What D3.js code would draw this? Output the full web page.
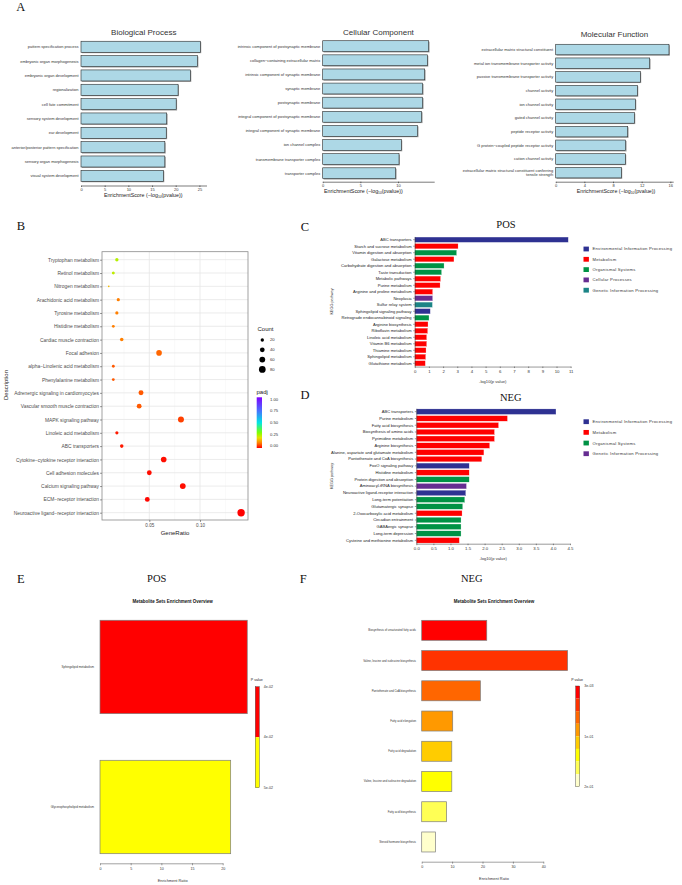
<!DOCTYPE html>
<html lang="en">
<head>
<meta charset="UTF-8">
<script src="https://cdn.jsdelivr.net/npm/d3@7"></script>
<title>Enrichment panels</title>
<style>
  body { margin: 0; background: #fff; }
  text { font-family: "Liberation Sans", Arial, sans-serif; }
  .serif { font-family: "Liberation Serif", "Times New Roman", serif; }
</style>
</head>
<body>
<div id="fig"></div>
<script>
// ---------- A: GO enrichment ----------
var bpTerms = ["pattern specification process", "embryonic organ morphogenesis", "embryonic organ development",
  "regionalization", "cell fate commitment", "sensory system development", "ear development",
  "anterior/posterior pattern specification", "sensory organ morphogenesis", "visual system development"];
var bpScores = [25.2, 24.6, 23.1, 20.5, 20.1, 18.1, 18.0, 17.7, 17.7, 17.4];
var bpTicks = [0, 5, 10, 15, 20, 25];

var ccTerms = ["intrinsic component of postsynaptic membrane", "collagen−containing extracellular matrix",
  "intrinsic component of synaptic membrane", "synaptic membrane", "postsynaptic membrane",
  "integral component of postsynaptic membrane", "integral component of synaptic membrane",
  "ion channel complex", "transmembrane transporter complex", "transporter complex"];
var ccScores = [14.07, 13.9, 13.54, 13.27, 13.27, 13.14, 12.6, 10.44, 10.13, 9.69];
var ccTicks = [0, 5, 10];

var mfTerms = ["extracellular matrix structural constituent", "metal ion transmembrane transporter activity",
  "passive transmembrane transporter activity", "channel activity", "ion channel activity",
  "gated channel activity", "peptide receptor activity", "G protein−coupled peptide receptor activity",
  "cation channel activity", "extracellular matrix structural constituent conferring\ntensile strength"];
var mfScores = [15.81, 13.12, 11.81, 11.4, 11.12, 10.98, 10.05, 9.77, 9.72, 9.16];
var mfTicks = [0, 4, 8, 12, 16];

// ---------- B: KEGG dot plot ----------
var keggTerms = ["Tryptophan metabolism", "Retinol metabolism", "Nitrogen metabolism", "Arachidonic acid metabolism",
  "Tyrosine metabolism", "Histidine metabolism", "Cardiac muscle contraction", "Focal adhesion",
  "alpha−Linolenic acid metabolism", "Phenylalanine metabolism", "Adrenergic signaling in cardiomyocytes",
  "Vascular smooth muscle contraction", "MAPK signaling pathway", "Linoleic acid metabolism", "ABC transporters",
  "Cytokine−cytokine receptor interaction", "Cell adhesion molecules", "Calcium signaling pathway",
  "ECM−receptor interaction", "Neuroactive ligand−receptor interaction"];
var keggRatio = [0.018, 0.0145, 0.010, 0.0194, 0.018, 0.0145, 0.0228, 0.0596, 0.0145, 0.0145,
  0.0418, 0.040, 0.0812, 0.018, 0.0228, 0.0642, 0.050, 0.083, 0.048, 0.1405];
var keggCount = [20, 16, 5, 18, 18, 14, 22, 56, 14, 14, 44, 41, 64, 18, 22, 56, 41, 60, 41, 97];
var keggPadj = [0.25, 0.24, 0.16, 0.1, 0.1, 0.1, 0.1, 0.08, 0.07, 0.07,
  0.07, 0.07, 0.05, 0.02, 0.02, 0.01, 0.01, 0.01, 0.005, 0.001];
var ratioTicks = [0.05, 0.10];
var countLegend = [20, 40, 60, 80];
var padjLegend = [0, 0.25, 0.5, 0.75, 1];

// ---------- C / D: KEGG classes ----------
var posTerms = ["ABC transporters", "Starch and sucrose metabolism", "Vitamin digestion and absorption",
  "Galactose metabolism", "Carbohydrate digestion and absorption", "Taste transduction", "Metabolic pathways",
  "Purine metabolism", "Arginine and proline metabolism", "Neoplasia", "Sulfur relay system",
  "Sphingolipid signaling pathway", "Retrograde endocannabinoid signaling", "Arginine biosynthesis",
  "Riboflavin metabolism", "Linoleic acid metabolism", "Vitamin B6 metabolism", "Thiamine metabolism",
  "Sphingolipid metabolism", "Glutathione metabolism"];
var posValues = [10.83, 3.06, 2.96, 2.77, 2.07, 1.90, 1.83, 1.79, 1.27, 1.27, 1.25, 1.10, 1.01,
  0.94, 0.92, 0.85, 0.85, 0.80, 0.78, 0.75];
var posClass = ["Environmental Information Processing", "Metabolism", "Organismal Systems", "Metabolism",
  "Organismal Systems", "Organismal Systems", "Metabolism", "Metabolism", "Metabolism", "Cellular Processes",
  "Genetic Information Processing", "Environmental Information Processing", "Organismal Systems",
  "Metabolism", "Metabolism", "Metabolism", "Metabolism", "Metabolism", "Metabolism", "Metabolism"];
var posLegend = ["Environmental Information Processing", "Metabolism", "Organismal Systems",
  "Cellular Processes", "Genetic Information Processing"];
var posLegendColors = ["#2e3192", "#ff0000", "#009245", "#662d91", "#1b8486"];
var posTicks = [0, 1, 2, 3, 4, 5, 6, 7, 8, 9, 10, 11];

var negTerms = ["ABC transporters", "Purine metabolism", "Fatty acid biosynthesis", "Biosynthesis of amino acids",
  "Pyrimidine metabolism", "Arginine biosynthesis", "Alanine, aspartate and glutamate metabolism",
  "Pantothenate and CoA biosynthesis", "FoxO signaling pathway", "Histidine metabolism",
  "Protein digestion and absorption", "Aminoacyl-tRNA biosynthesis", "Neuroactive ligand-receptor interaction",
  "Long-term potentiation", "Glutamatergic synapse", "2-Oxocarboxylic acid metabolism", "Circadian entrainment",
  "GABAergic synapse", "Long-term depression", "Cysteine and methionine metabolism"];
var negValues = [4.09, 2.67, 2.41, 2.29, 2.29, 2.15, 1.98, 1.92, 1.55, 1.55, 1.55, 1.47, 1.45,
  1.42, 1.36, 1.34, 1.31, 1.31, 1.31, 1.26];
var negClass = ["Environmental Information Processing", "Metabolism", "Metabolism", "Metabolism", "Metabolism",
  "Metabolism", "Metabolism", "Metabolism", "Environmental Information Processing", "Metabolism",
  "Organismal Systems", "Genetic Information Processing", "Environmental Information Processing",
  "Organismal Systems", "Organismal Systems", "Metabolism", "Organismal Systems", "Organismal Systems",
  "Organismal Systems", "Metabolism"];
var negLegend = ["Environmental Information Processing", "Metabolism", "Organismal Systems",
  "Genetic Information Processing"];
var negLegendColors = ["#2e3192", "#ff0000", "#009245", "#662d91"];
var negTicks = [0, 0.5, 1, 1.5, 2, 2.5, 3, 3.5, 4, 4.5];

// ---------- E / F: metabolite set enrichment ----------
var ePathways = ["Sphingolipid metabolism", "Glycerophospholipid metabolism"];
var eRatio = [24.0, 21.3];
var ePval = [0.038, 0.049];
var eColors = ["#ff0000", "#ffff00"];
var eTicks = [0, 5, 10, 15, 20];

var fPathways = ["Biosynthesis of unsaturated fatty acids", "Valine, leucine and isoleucine biosynthesis",
  "Pantothenate and CoA biosynthesis", "Fatty acid elongation", "Fatty acid degradation",
  "Valine, leucine and isoleucine degradation", "Fatty acid biosynthesis", "Steroid hormone biosynthesis"];
var fRatio = [21.4, 48.0, 19.3, 10.2, 9.9, 9.9, 8.2, 4.5];
var fPval = [0.003, 0.03, 0.055, 0.08, 0.11, 0.135, 0.16, 0.2];
var fColors = ["#ff0000", "#ff3300", "#ff6600", "#ff9900", "#ffcc00", "#ffff00", "#ffff55", "#ffffcc"];
var fTicks = [0, 10, 20, 30, 40];

var svg = d3.select("#fig").append("svg")
  .attr("width", 682).attr("height", 885);
svg.append("rect").attr("width", 682).attr("height", 885).attr("fill", "#fff");

// panel letters
[["A", 20.7, 11], ["B", 21, 229.5], ["C", 305, 230.5], ["D", 305, 398.5], ["E", 20.7, 583], ["F", 303.3, 583]]
  .forEach(l => {
    svg.append("text").attr("class", "serif").attr("x", l[1]).attr("y", l[2])
      .attr("text-anchor", "middle").attr("font-size", 12.5).attr("fill", "#111").text(l[0]);
  });

function multiline(sel, size) {
  sel.each(function(d) {
    var lines = String(d).split("\n");
    var t = d3.select(this).text(null);
    lines.forEach((ln, i) => {
      t.append("tspan").attr("x", t.attr("x"))
        .attr("dy", i == 0 ? (0.35 - (lines.length - 1) * 0.5) + "em" : "1em")
        .text(ln);
    });
  });
}

// ---- A panels
function drawGO(o) {
  var x = d3.scaleLinear().domain([0, o.xMax]).range([o.x0, o.x1]);
  var y = d3.scaleBand().domain(o.terms).range([o.yTop, o.yBot]).paddingInner(0.23).paddingOuter(0.115);
  var g = svg.append("g");
  g.selectAll(".shadow").data(o.terms).enter().append("rect")
    .attr("x", x(0) + 0.9).attr("y", d => y(d) + 0.9)
    .attr("width", (d, i) => x(o.scores[i]) - x(0)).attr("height", y.bandwidth())
    .attr("fill", "#a0a0a0");
  g.selectAll(".bar").data(o.terms).enter().append("rect")
    .attr("x", x(0)).attr("y", d => y(d))
    .attr("width", (d, i) => x(o.scores[i]) - x(0)).attr("height", y.bandwidth())
    .attr("fill", "#add8e6").attr("stroke", "#2a2a2a").attr("stroke-width", 0.6);
  g.selectAll(".lab").data(o.terms).enter().append("text")
    .attr("x", x(0) - 2.5).attr("y", d => y(d) + y.bandwidth() / 2)
    .attr("text-anchor", "end").attr("font-size", 4).attr("fill", "#333")
    .call(multiline);
  var ax = g.append("g").attr("transform", "translate(0," + o.axisY + ")")
    .call(d3.axisBottom(x).tickValues(o.ticks).tickSize(1.5).tickSizeOuter(0).tickPadding(0.8));
  ax.selectAll("text").attr("font-size", 4).attr("fill", "#333");
  ax.selectAll("line,path").attr("stroke", "#222").attr("stroke-width", 0.6);
  g.append("text").attr("x", (o.x0 + o.x1) / 2).attr("y", o.titleY).attr("text-anchor", "middle")
    .attr("font-size", 8).attr("fill", "#333").text(o.title);
  var xt = g.append("text").attr("x", o.x0 + (o.ticks[o.ticks.length - 1] / o.xMax) * (o.x1 - o.x0) / 2 + 3)
    .attr("y", o.axisY + 11.5).attr("text-anchor", "middle").attr("font-size", 5.3).attr("fill", "#222");
  xt.append("tspan").text("EnrichmentScore (−log");
  xt.append("tspan").attr("font-size", 3.3).attr("dy", 1.2).text("10");
  xt.append("tspan").attr("dy", -1.2).text("(pvalue))");
}

drawGO({ title: "Biological Process", terms: bpTerms, scores: bpScores, ticks: bpTicks,
  xMax: 26.5, x0: 81, x1: 206.5, yTop: 39.6, yBot: 183.0, axisY: 185.5, titleY: 34.5 });
drawGO({ title: "Cellular Component", terms: ccTerms, scores: ccScores, ticks: ccTicks,
  xMax: 14.8, x0: 322.7, x1: 434.2, yTop: 39.1, yBot: 180.3, axisY: 181.7, titleY: 34.5 });
drawGO({ title: "Molecular Function", terms: mfTerms, scores: mfScores, ticks: mfTicks,
  xMax: 16.4, x0: 555.7, x1: 673.2, yTop: 42.7, yBot: 179.5, axisY: 181.7, titleY: 37.3 });

// ---- B dot plot
(function() {
  var left = 102, right = 248, top = 251.7, bottom = 520;
  var x = d3.scaleLinear().domain([0.00335, 0.1473]).range([left, right]);
  var y = d3.scalePoint().domain(keggTerms).range([259.7, 512.7]);
  var r = d3.scaleSqrt().domain([0, 80]).range([0, 3.35]);
  var padjStops = [0, 0.1, 0.2, 0.3, 0.5, 0.75, 1];
  var color = d3.scaleLinear().domain(padjStops)
    .range(["#ff0000", "#ff7f00", "#e8e000", "#7fff00", "#00e5e5", "#4d6bff", "#8000ff"]);
  var g = svg.append("g");
  // grid
  [0.025, 0.075, 0.125].forEach(v => {
    g.append("line").attr("x1", x(v)).attr("x2", x(v)).attr("y1", top).attr("y2", bottom)
      .attr("stroke", "#f2f2f2").attr("stroke-width", 0.5);
  });
  ratioTicks.forEach(v => {
    g.append("line").attr("x1", x(v)).attr("x2", x(v)).attr("y1", top).attr("y2", bottom)
      .attr("stroke", "#e6e6e6").attr("stroke-width", 0.8);
  });
  g.selectAll(".hg").data(keggTerms).enter().append("line")
    .attr("x1", left).attr("x2", right).attr("y1", d => y(d)).attr("y2", d => y(d))
    .attr("stroke", "#e6e6e6").attr("stroke-width", 0.8);
  g.selectAll(".dot").data(keggTerms).enter().append("circle")
    .attr("cx", (d, i) => x(keggRatio[i])).attr("cy", d => y(d))
    .attr("r", (d, i) => r(keggCount[i]))
    .attr("fill", (d, i) => color(keggPadj[i]));
  g.append("rect").attr("x", left).attr("y", top).attr("width", right - left).attr("height", bottom - top)
    .attr("fill", "none").attr("stroke", "#8a8a8a").attr("stroke-width", 0.8);
  var ay = g.append("g").attr("transform", "translate(" + left + ",0)")
    .call(d3.axisLeft(y).tickSize(2).tickPadding(1));
  ay.select(".domain").remove();
  ay.selectAll("text").attr("font-size", 4.9).attr("fill", "#4d4d4d");
  ay.selectAll("line").attr("stroke", "#333").attr("stroke-width", 0.5);
  var ax = g.append("g").attr("transform", "translate(0," + bottom + ")")
    .call(d3.axisBottom(x).tickValues(ratioTicks).tickFormat(d3.format(".2f")).tickSize(2).tickPadding(1.5));
  ax.select(".domain").remove();
  ax.selectAll("text").attr("font-size", 4.6).attr("fill", "#4d4d4d");
  ax.selectAll("line").attr("stroke", "#333").attr("stroke-width", 0.5);
  g.append("text").attr("x", (left + right) / 2).attr("y", 534.5).attr("text-anchor", "middle")
    .attr("font-size", 6).attr("fill", "#222").text("GeneRatio");
  g.append("text").attr("transform", "translate(8,385) rotate(-90)").attr("text-anchor", "middle")
    .attr("font-size", 6).attr("fill", "#222").text("Description");

  // legends
  g.append("text").attr("x", 257.5).attr("y", 330.5).attr("font-size", 6).attr("fill", "#222").text("Count");
  countLegend.forEach((c, i) => {
    var cy = 340 + i * 9.8;
    g.append("circle").attr("cx", 262.3).attr("cy", cy).attr("r", r(c)).attr("fill", "#000");
    g.append("text").attr("x", 270).attr("y", cy).attr("dy", "0.35em").attr("font-size", 4.2)
      .attr("fill", "#333").text(c);
  });
  g.append("text").attr("x", 256.5).attr("y", 393.5).attr("font-size", 6).attr("fill", "#222").text("padj");
  var grad = svg.append("defs").append("linearGradient").attr("id", "padjGrad")
    .attr("x1", 0).attr("y1", 1).attr("x2", 0).attr("y2", 0);
  d3.range(0, 1.0001, 0.05).forEach(v => {
    grad.append("stop").attr("offset", v).attr("stop-color", color(v));
  });
  var cb = d3.scaleLinear().domain([0, 1]).range([446, 399.3]);
  g.append("rect").attr("x", 256.7).attr("y", cb(1) - 2).attr("width", 5.3).attr("height", cb(0) - cb(1) + 4)
    .attr("fill", "url(#padjGrad)");
  padjLegend.forEach(v => {
    g.append("text").attr("x", 270).attr("y", cb(v)).attr("dy", "0.35em").attr("font-size", 4.2)
      .attr("fill", "#333").text(d3.format(".2f")(v));
  });
})();

// ---- C / D bar charts
function drawKegg(o) {
  var x = d3.scaleLinear().domain([0, o.xMax]).range([o.x0, o.x1]);
  var y = d3.scaleBand().domain(o.terms).range([o.yTop, o.yBot]).paddingInner(0.18).paddingOuter(0.09);
  var col = d3.scaleOrdinal().domain(o.legend).range(o.legendColors);
  var g = svg.append("g");
  g.append("text").attr("class", "serif").attr("x", o.titleX).attr("y", o.titleY).attr("text-anchor", "middle")
    .attr("font-size", 10.5).attr("fill", "#111").text(o.title);
  g.selectAll(".bar").data(o.terms).enter().append("rect")
    .attr("x", x(0)).attr("y", d => y(d))
    .attr("width", (d, i) => x(o.values[i]) - x(0)).attr("height", y.bandwidth())
    .attr("fill", (d, i) => col(o.classes[i])).attr("stroke", "#fff").attr("stroke-width", 0.3);
  var ay = g.append("g").attr("transform", "translate(" + o.x0 + ",0)")
    .call(d3.axisLeft(y).tickSize(1.5).tickSizeOuter(0).tickPadding(1.6));
  ay.selectAll("text").attr("font-size", 4.1).attr("fill", "#222");
  ay.selectAll("line,path").attr("stroke", "#333").attr("stroke-width", 0.5);
  var ax = g.append("g").attr("transform", "translate(0," + o.yBot + ")")
    .call(d3.axisBottom(x).tickValues(o.ticks).tickFormat(o.fmt).tickSize(1.5).tickSizeOuter(0).tickPadding(2));
  ax.selectAll("text").attr("font-size", 4.3).attr("fill", "#333");
  ax.selectAll("line,path").attr("stroke", "#333").attr("stroke-width", 0.5);
  g.append("text").attr("x", (o.x0 + o.x1) / 2).attr("y", o.yBot + 16.5).attr("text-anchor", "middle")
    .attr("font-size", 4.1).attr("fill", "#333").text("-log10(p value)");
  g.append("text").attr("transform", "translate(333," + (o.yTop + o.yBot) / 2 + ") rotate(-90)")
    .attr("text-anchor", "middle").attr("font-size", 3.8).attr("fill", "#333").text("KEGG pathway");
  o.legend.forEach((c, i) => {
    var cy = o.legY + i * o.legStep;
    g.append("rect").attr("x", 583.5).attr("y", cy - 2.4).attr("width", 5.4).attr("height", 4.8)
      .attr("fill", col(c));
    g.append("text").attr("x", 592.5).attr("y", cy).attr("dy", "0.35em").attr("font-size", 4.2)
      .attr("letter-spacing", 0.25).attr("fill", "#333").text(c);
  });
}

drawKegg({ title: "POS", titleX: 506, titleY: 228, terms: posTerms, values: posValues, classes: posClass,
  legend: posLegend, legendColors: posLegendColors, ticks: posTicks, fmt: d3.format("d"),
  xMax: 11, x0: 414.7, x1: 570.7, yTop: 236.45, yBot: 366.55, legY: 249, legStep: 10.3 });
drawKegg({ title: "NEG", titleX: 510.7, titleY: 400.5, terms: negTerms, values: negValues, classes: negClass,
  legend: negLegend, legendColors: negLegendColors, ticks: negTicks, fmt: d3.format(".1f"),
  xMax: 4.5, x0: 416.3, x1: 570, yTop: 408.3, yBot: 543.7, legY: 421.7, legStep: 10.67 });

// ---- E / F metabolite set overview
function sci(v) {
  return v.toExponential(0).replace(/e([+-])(\d)$/, "e$10$2");
}

function drawMsea(o) {
  var x = d3.scaleLinear().domain([0, o.ticks[o.ticks.length - 1]]).range([o.x0, o.x1]);
  var y = d3.scaleBand().domain(o.names).range([o.yTop, o.yBot]).paddingInner(o.pad).paddingOuter(o.pad / 2);
  var pc = d3.scaleQuantize().domain([o.pval[0], o.pval[o.pval.length - 1]]).range(o.colors);
  var g = svg.append("g");
  g.append("text").attr("class", "serif").attr("x", o.titleX).attr("y", 582).attr("text-anchor", "middle")
    .attr("font-size", 10.5).attr("fill", "#111").text(o.title);
  g.append("text").attr("x", o.headX).attr("y", 603).attr("text-anchor", "middle")
    .attr("font-size", 4.5).attr("font-weight", "bold").attr("fill", "#111")
    .text("Metabolite Sets Enrichment Overview");
  g.selectAll(".bar").data(o.names).enter().append("rect")
    .attr("x", x(0)).attr("y", d => y(d))
    .attr("width", (d, i) => x(o.ratio[i]) - x(0)).attr("height", y.bandwidth())
    .attr("fill", (d, i) => pc(o.pval[i])).attr("stroke", "#7d7d7d").attr("stroke-width", 0.7);
  g.selectAll(".lab").data(o.names).enter().append("text")
    .attr("x", o.labX).attr("y", d => y(d) + y.bandwidth() / 2).attr("dy", "0.35em")
    .attr("text-anchor", "end").attr("font-size", o.labSize).attr("fill", "#333").text(d => d);
  var ax = g.append("g").attr("transform", "translate(0," + o.axisY + ")")
    .call(d3.axisBottom(x).tickValues(o.ticks).tickSize(2).tickSizeOuter(0).tickPadding(2));
  ax.selectAll("text").attr("font-size", 3.6).attr("fill", "#333");
  ax.selectAll("line,path").attr("stroke", "#444").attr("stroke-width", 0.5);
  g.append("text").attr("x", o.headX).attr("y", o.axisY + 18.5).attr("text-anchor", "middle")
    .attr("font-size", 3.9).attr("fill", "#333").text("Enrichment Ratio");
  // colour key
  g.append("text").attr("x", o.keyX - 4.5).attr("y", 680.5).attr("font-size", 3.6).attr("fill", "#222").text("P value");
  var seg = (o.keyBot - o.keyTop) / o.colors.length;
  o.colors.forEach((c, i) => {
    g.append("rect").attr("x", o.keyX).attr("y", o.keyTop + i * seg).attr("width", 4).attr("height", seg)
      .attr("fill", c);
  });
  g.append("rect").attr("x", o.keyX).attr("y", o.keyTop).attr("width", 4).attr("height", o.keyBot - o.keyTop)
    .attr("fill", "none").attr("stroke", "#333").attr("stroke-width", 0.4);
  var lo = o.pval[0], hi = o.pval[o.pval.length - 1];
  [[lo, o.keyTop], [(lo + hi) / 2, (o.keyTop + o.keyBot) / 2], [hi, o.keyBot]].forEach(p => {
    g.append("text").attr("x", o.keyX + 8.5).attr("y", p[1]).attr("dy", "0.35em")
      .attr("font-size", 3.6).attr("fill", "#333").text(sci(p[0]));
  });
}

drawMsea({ title: "POS", titleX: 156.7, headX: 172.7, names: ePathways, ratio: eRatio, pval: ePval,
  colors: eColors, ticks: eTicks, x0: 100, x1: 222.7, yTop: 596.95, yBot: 877, pad: 0.333,
  labX: 94, labSize: 3, axisY: 863.3, keyX: 255.3, keyTop: 686.7, keyBot: 787.7 });
drawMsea({ title: "NEG", titleX: 471.7, headX: 494, names: fPathways, ratio: fRatio, pval: fPval,
  colors: fColors, ticks: fTicks, x0: 421.7, x1: 543.3, yTop: 615.2, yBot: 857.1, pad: 0.339,
  labX: 416, labSize: 2.8, axisY: 861.7, keyX: 575.7, keyTop: 686, keyBot: 786.7 });
</script>
</body>
</html>
